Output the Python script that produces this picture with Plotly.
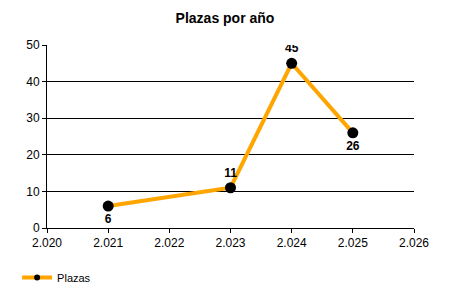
import plotly.graph_objects as go

years = [2021, 2023, 2024, 2025]
plazas = [6, 11, 45, 26]
label_pos = ["bottom center", "top center", "top center", "bottom center"]
x_ticks = [2020, 2021, 2022, 2023, 2024, 2025, 2026]
y_ticks = [0, 10, 20, 30, 40, 50]

fig = go.Figure()
fig.add_trace(go.Scatter(
    x=years, y=plazas, mode="lines+markers+text", name="Plazas", showlegend=False,
    line=dict(color="#FFA500", width=4),
    marker=dict(color="black", size=11),
    text=[str(v) for v in plazas], textposition=label_pos,
    textfont=dict(family="Liberation Sans, Arial", size=12, color="black", weight="bold"),
))
# legend entry with a small marker, as in the reference
fig.add_trace(go.Scatter(
    x=[None], y=[None], mode="lines+markers", name="Plazas",
    line=dict(color="#FFA500", width=4),
    marker=dict(color="black", size=6),
))

fig.update_layout(
    width=450, height=300,
    margin=dict(l=47, r=36, t=45, b=72),
    paper_bgcolor="white", plot_bgcolor="white",
    separators=",.",
    title=dict(text="<b>Plazas por año</b>", x=0.5, xanchor="center", y=0.94, yanchor="middle",
               font=dict(family="Liberation Sans, Arial", size=14, color="black")),
    font=dict(family="Liberation Sans, Arial", size=12, color="black"),
    showlegend=True,
    legend=dict(orientation="h", x=0.038, xanchor="left", y=0.075, yanchor="middle",
                xref="container", yref="container",
                font=dict(size=11, color="black"), itemwidth=30),
    xaxis=dict(range=[2020, 2026], tickvals=x_ticks, tickformat=",d",
               showgrid=False, zeroline=False, showline=True, linecolor="black", linewidth=1,
               ticks="outside", ticklen=4, tickcolor="black", tickfont=dict(size=12)),
    yaxis=dict(range=[0, 50], tickvals=y_ticks, showgrid=True, gridcolor="black", gridwidth=1,
               zeroline=False, showline=True, linecolor="black", linewidth=1,
               ticks="outside", ticklen=4, tickcolor="black", tickfont=dict(size=12)),
)

fig.write_html("out.html")
